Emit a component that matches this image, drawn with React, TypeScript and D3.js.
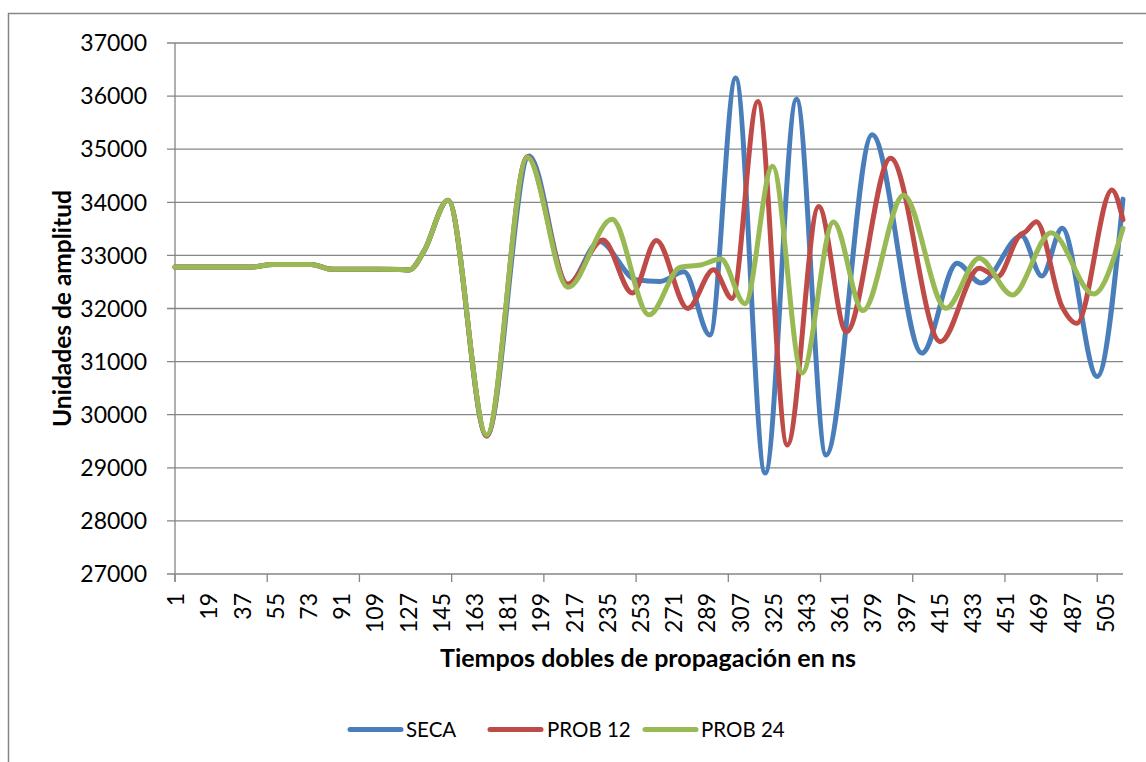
import React from "react";
import * as d3 from "d3";

const N_CATEGORIES = 515;
const Y_TICKS = [27000, 28000, 29000, 30000, 31000, 32000, 33000, 34000, 35000, 36000, 37000];
const X_LABEL_STEP = 18;
const X_TICK_STEP = 50;

// Key points: category index and amplitude
const SECA_CAT = [1, 42, 54, 75, 86, 123, 128, 136, 149, 170, 193, 214, 231, 251, 264, 277, 291, 305, 321, 338, 354, 379, 406, 425, 438, 460, 471, 482, 501, 515];
const SECA_VAL = [32780, 32780, 32830, 32830, 32740, 32735, 32725, 33080, 34040, 29600, 34870, 32440, 33260, 32540, 32510, 32690, 31500, 36340, 28900, 35940, 29240, 35270, 31160, 32850, 32480, 33370, 32610, 33510, 30720, 34060];

const PROB12_CAT = [1, 42, 54, 75, 86, 123, 128, 136, 149, 170, 192, 214, 233, 249, 262, 279, 293, 303, 317, 333, 350, 365, 389, 416, 437, 447, 459, 462, 468, 482, 490, 509, 515];
const PROB12_VAL = [32780, 32780, 32830, 32830, 32740, 32735, 32725, 33080, 34040, 29600, 34860, 32460, 33290, 32290, 33280, 32000, 32730, 32190, 35900, 29430, 33920, 31560, 34830, 31375, 32760, 32600, 33380, 33440, 33635, 32030, 31720, 34230, 33670];

const PROB24_CAT = [1, 42, 54, 75, 86, 123, 128, 136, 149, 170, 192, 214, 238, 258, 275, 286, 297, 310, 325, 341, 358, 374, 396, 419, 437, 455, 476, 499, 515];
const PROB24_VAL = [32780, 32780, 32830, 32830, 32740, 32735, 32725, 33080, 34040, 29620, 34850, 32400, 33680, 31880, 32780, 32820, 32930, 32090, 34680, 30785, 33630, 31960, 34135, 32004, 32945, 32254, 33428, 32273, 33510];

const SERIES_NAMES = ["SECA", "PROB 12", "PROB 24"];
const SERIES_COLORS = ["#4A7EBB", "#BE4B48", "#98B954"];

const Y_TITLE = "Unidades de amplitud";
const X_TITLE = "Tiempos dobles de propagación en ns";

export default function App() {
  const W = 1146;
  const H = 762;
  const left = 175;
  const right = 1123;
  const top = 43;
  const bottom = 574;
  const font = "Lato, 'Open Sans', sans-serif";

  const x = d3.scaleLinear().domain([1, N_CATEGORIES]).range([left, right]);
  const y = d3.scaleLinear().domain([27000, 37000]).range([bottom, top]);

  const series = [
    SECA_CAT.map((c, i) => [c, SECA_VAL[i]] as [number, number]),
    PROB12_CAT.map((c, i) => [c, PROB12_VAL[i]] as [number, number]),
    PROB24_CAT.map((c, i) => [c, PROB24_VAL[i]] as [number, number]),
  ];

  const line = d3
    .line<[number, number]>()
    .x((d) => x(d[0]))
    .y((d) => y(d[1]))
    .curve(d3.curveMonotoneX);

  const xLabels = d3.range(1, N_CATEGORIES + 1, X_LABEL_STEP);
  const xTicks = d3.range(1, N_CATEGORIES + 1, X_TICK_STEP);

  const legendItems = [
    { x1: 350, x2: 401, tx: 406 },
    { x1: 490, x2: 541, tx: 547 },
    { x1: 645, x2: 696, tx: 701 },
  ];

  const grid = "#868686";

  return (
    <svg
      width={W}
      height={H}
      style={{ position: "absolute", left: 0, top: 0, background: "#fff" }}
    >
      <rect x={0} y={0} width={W} height={H} fill="#fff" />
      <rect x={8.5} y={13.5} width={1300} height={900} fill="none" stroke="#878787" strokeWidth={1.5} />

      {/* gridlines + y ticks */}
      {Y_TICKS.map((t) => (
        <g key={t}>
          <line x1={left - 8} x2={right} y1={y(t)} y2={y(t)} stroke={grid} strokeWidth={1.3} />
          <text
            x={147}
            y={y(t)}
            dy="0.36em"
            textAnchor="end"
            fontFamily={font}
            fontSize={23}
            fill="#000"
          >
            {t}
          </text>
        </g>
      ))}

      {/* y axis */}
      <line x1={left} x2={left} y1={top} y2={bottom + 8} stroke={grid} strokeWidth={1.3} />
      {/* x ticks */}
      {xTicks.map((c) => (
        <line key={c} x1={x(c)} x2={x(c)} y1={bottom} y2={bottom + 8} stroke={grid} strokeWidth={1.3} />
      ))}
      {/* x labels */}
      {xLabels.map((c) => (
        <text
          key={c}
          transform={`translate(${x(c) + 1},593) rotate(-90)`}
          textAnchor="end"
          dy="0.36em"
          fontFamily={font}
          fontSize={23}
          fill="#000"
        >
          {c}
        </text>
      ))}

      {/* series */}
      {series.map((s, i) => (
        <path
          key={i}
          d={line(s) || ""}
          fill="none"
          stroke={SERIES_COLORS[i]}
          strokeWidth={5}
          strokeLinejoin="round"
          strokeLinecap="round"
        />
      ))}

      {/* axis titles */}
      <text
        transform={`translate(62,${(top + bottom) / 2}) rotate(-90)`}
        textAnchor="middle"
        dy="0.36em"
        fontFamily={font}
        fontWeight="bold"
        fontSize={24.5}
        fill="#000"
      >
        {Y_TITLE}
      </text>
      <text
        x={648}
        y={667}
        textAnchor="middle"
        fontFamily={font}
        fontWeight="bold"
        fontSize={25}
        fill="#000"
      >
        {X_TITLE}
      </text>

      {/* legend */}
      {legendItems.map((l, i) => (
        <g key={i}>
          <line
            x1={l.x1}
            x2={l.x2}
            y1={729.5}
            y2={729.5}
            stroke={SERIES_COLORS[i]}
            strokeWidth={5}
            strokeLinecap="round"
          />
          <text x={l.tx} y={737} fontFamily={font} fontSize={20.5} fill="#000">
            {SERIES_NAMES[i]}
          </text>
        </g>
      ))}
    </svg>
  );
}
